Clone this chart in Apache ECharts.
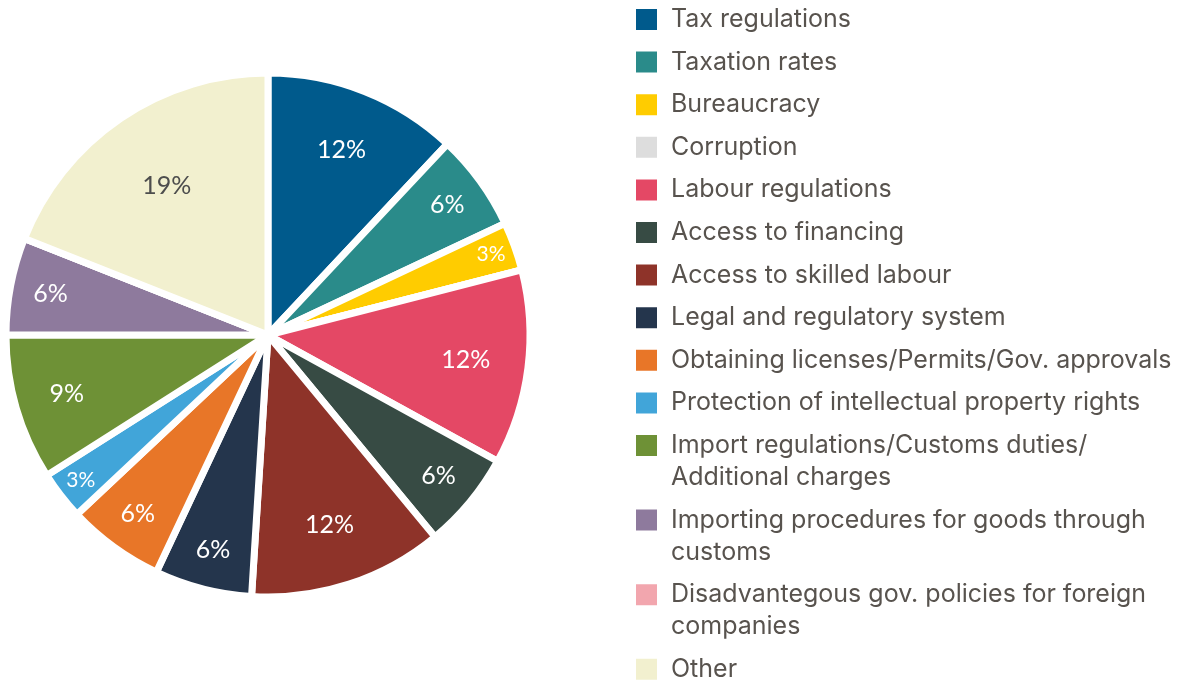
<!DOCTYPE html>
<html>
<head>
<meta charset="utf-8">
<script src="https://cdn.jsdelivr.net/npm/echarts@6/dist/echarts.min.js"></script>
<style>
  html, body { margin: 0; padding: 0; background: #ffffff; }
  #chart { width: 1178px; height: 683px; }
</style>
</head>
<body>
<div id="chart"></div>
<script>
// Share of respondents naming each obstacle (percent)
const categories = [
  'Tax regulations',
  'Taxation rates',
  'Bureaucracy',
  'Corruption',
  'Labour regulations',
  'Access to financing',
  'Access to skilled labour',
  'Legal and regulatory system',
  'Obtaining licenses/Permits/Gov. approvals',
  'Protection of intellectual property rights',
  'Import regulations/Customs duties/\nAdditional charges',
  'Importing procedures for goods through\ncustoms',
  'Disadvantegous gov. policies for foreign\ncompanies',
  'Other'
];
const shares = [12, 6, 3, 0, 12, 6, 12, 6, 6, 3, 9, 6, 0, 19];

const palette = [
  '#005a8c', '#2a8b8a', '#ffcc00', '#dddddd', '#e44865', '#374b44', '#8e3329',
  '#24354c', '#e87628', '#41a5d9', '#6e9136', '#8e7a9d', '#f2a6ae', '#f2f0cf'
];

// Pie geometry
const CX = 268, CY = 335, R = 262;
const total = shares.reduce((a, b) => a + b, 0);

// Labels sit further out on narrow slices, closer in on wide ones
function labelDistance(pct) {
  return 274.6 - 21.7 * Math.sqrt(pct);
}

const pieData = categories.map((name, i) => {
  const item = { name: name, value: shares[i] };
  const lab = {};
  if (shares[i] <= 3) lab.fontSize = 21;
  if (name === 'Other') lab.color = '#4d4d4d';
  item.label = lab;
  return item;
});

// Legend: one block per entry; wrapped names get a taller icon box whose
// swatch sits at the top, so it lines up with the first text line
const LEGEND_X = 634, FIRST_TOP = 8, ROW_STEP = 42.6, LINE_H = 32, SWATCH = 23;
const legends = [];
let iconTop = FIRST_TOP;
categories.forEach((name) => {
  const lines = name.split('\n').length;
  const boxH = SWATCH + (lines - 1) * LINE_H;
  legends.push({
    left: LEGEND_X,
    top: iconTop - (LINE_H - SWATCH) / 2,
    orient: 'vertical',
    padding: 0,
    itemWidth: SWATCH,
    itemHeight: boxH,
    icon: 'path://M0,0H' + SWATCH + 'V' + SWATCH + 'H0Z' + (lines > 1 ? 'M0,' + boxH : ''),
    selectedMode: false,
    data: [name],
    textStyle: {
      fontFamily: 'Inter',
      fontSize: 25,
      color: '#58534e',
      lineHeight: LINE_H,
      padding: [0, 0, 0, 8]
    }
  });
  iconTop += ROW_STEP + (lines - 1) * LINE_H;
});

const chart = echarts.init(document.getElementById('chart'), null, { renderer: 'canvas' });
chart.setOption({
  animation: false,
  color: palette,
  legend: legends,
  series: [{
    type: 'pie',
    center: [CX, CY],
    radius: [0, R],
    startAngle: 90,
    clockwise: true,
    avoidLabelOverlap: false,
    itemStyle: { borderColor: '#ffffff', borderWidth: 7 },
    emphasis: { scale: false },
    label: {
      show: true,
      position: 'inside',
      fontFamily: 'Lato',
      fontSize: 25,
      color: '#ffffff',
      formatter: (p) => (p.value ? p.value + '%' : '')
    },
    labelLine: { show: false },
    labelLayout: function (params) {
      const r = params.labelRect;
      const lx = r.x + r.width / 2, ly = r.y + r.height / 2;
      const vx = lx - CX, vy = ly - CY;
      const len = Math.sqrt(vx * vx + vy * vy) || 1;
      const pct = shares[params.dataIndex] / total * 100;
      const shift = labelDistance(pct) - len;
      return { dx: vx / len * shift, dy: vy / len * shift };
    },
    data: pieData
  }]
});
</script>
</body>
</html>
